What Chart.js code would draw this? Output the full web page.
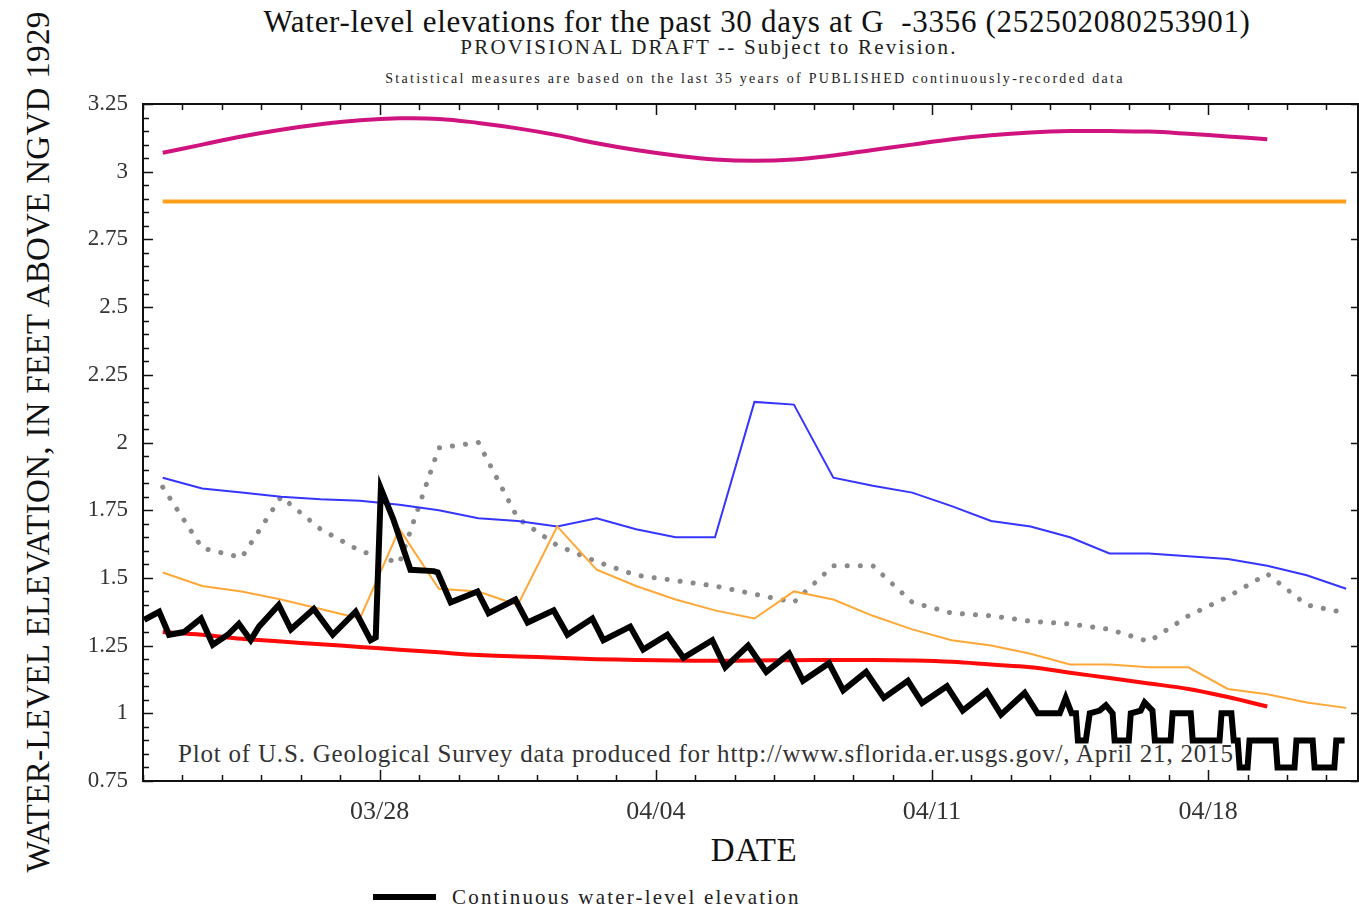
<!DOCTYPE html>
<html>
<head>
<meta charset="utf-8">
<script src="https://cdn.jsdelivr.net/npm/chart.js@4.4.1/dist/chart.umd.min.js"></script>
<style>
  body { margin: 0; background: #fff; }
  #wrap { position: relative; width: 1359px; height: 913px; overflow: hidden; font-family: "Liberation Serif", "Times New Roman", serif; }
  #wrap canvas { position: absolute; left: 0; top: 0; z-index: 2; }
  .txt { position: absolute; white-space: nowrap; line-height: 1; z-index: 1; }
  .ctr { transform: translateX(-50%); }
</style>
</head>
<body>
<div id="wrap">
  <div class="txt ctr" style="left:757px;top:6px;font-size:31px;color:#111;letter-spacing:0.7px;">Water-level elevations for the past 30 days at G&nbsp;&nbsp;-3356 (252502080253901)</div>
  <div class="txt ctr" style="left:709px;top:37px;font-size:21px;color:#222;letter-spacing:2.2px;">PROVISIONAL DRAFT -- Subject to Revision.</div>
  <div class="txt ctr" style="left:755px;top:72px;font-size:14px;color:#222;letter-spacing:2.3px;">Statistical measures are based on the last 35 years of PUBLISHED continuously-recorded data</div>
  <div class="txt" style="left:38px;top:442px;font-size:33px;color:#111;letter-spacing:0.3px;transform:translate(-50%,-50%) rotate(-90deg);">WATER-LEVEL ELEVATION, IN FEET ABOVE NGVD 1929</div>
  <div class="txt" style="left:178px;top:741px;font-size:25px;color:#333;letter-spacing:0.8px;">Plot of U.S. Geological Survey data produced for http://www.sflorida.er.usgs.gov/, April 21, 2015</div>
  <div class="txt ctr" style="left:754px;top:834px;font-size:33px;color:#111;letter-spacing:0.5px;">DATE</div>
  <div style="position:absolute;left:373px;top:894px;width:63px;height:6px;background:#000;"></div>
  <div class="txt" style="left:452px;top:887px;font-size:21px;color:#222;letter-spacing:2.2px;">Continuous water-level elevation</div>
  <canvas id="chart" width="1359" height="913"></canvas>
</div>
<script>
// days counted from 03/22 00:00
const xTickDays = [6, 13, 20, 27];
const xTickLabels = ["03/28", "04/04", "04/11", "04/18"];
const yTickValues = [0.75, 1, 1.25, 1.5, 1.75, 2, 2.25, 2.5, 2.75, 3, 3.25];
const yTickLabels = ["0.75", "1", "1.25", "1.5", "1.75", "2", "2.25", "2.5", "2.75", "3", "3.25"];

// daily statistics, one point at noon of each day
const statDays = [0.5, 1.5, 2.5, 3.5, 4.5, 5.5, 6.5, 7.5, 8.5, 9.5, 10.5, 11.5, 12.5, 13.5, 14.5, 15.5,
  16.5, 17.5, 18.5, 19.5, 20.5, 21.5, 22.5, 23.5, 24.5, 25.5, 26.5, 27.5, 28.5, 29.5, 30.5];
const upperSmooth = [3.07, 3.10, 3.13, 3.155, 3.175, 3.19, 3.197, 3.195, 3.18, 3.16, 3.135, 3.105, 3.08, 3.06,
  3.045, 3.04, 3.045, 3.06, 3.08, 3.10, 3.12, 3.135, 3.145, 3.15, 3.15, 3.148, 3.14, 3.13, 3.12];
const constDays = [0.5, 30.5];
const constLevel = [2.89, 2.89];
const highDaily = [1.87, 1.83, 1.815, 1.80, 1.79, 1.785, 1.77, 1.75, 1.72, 1.71, 1.69, 1.72, 1.68, 1.65, 1.65,
  2.15, 2.14, 1.87, 1.84, 1.815, 1.765, 1.71, 1.69, 1.65, 1.59, 1.59, 1.58, 1.57, 1.545, 1.51, 1.46];
const midDaily = [1.835, 1.61, 1.575, 1.80, 1.68, 1.60, 1.555, 1.98, 2.00, 1.72, 1.62, 1.56, 1.51, 1.49, 1.47,
  1.44, 1.41, 1.545, 1.545, 1.41, 1.37, 1.36, 1.34, 1.33, 1.31, 1.265, 1.36, 1.43, 1.515, 1.40, 1.37];
const lowDaily = [1.52, 1.47, 1.45, 1.42, 1.385, 1.35, 1.68, 1.46, 1.45, 1.40, 1.69, 1.53, 1.47, 1.42, 1.38,
  1.35, 1.45, 1.42, 1.36, 1.31, 1.27, 1.25, 1.22, 1.18, 1.18, 1.17, 1.17, 1.09, 1.07, 1.04, 1.02];
const lowerSmooth = [1.30, 1.29, 1.275, 1.265, 1.255, 1.245, 1.235, 1.225, 1.215, 1.21, 1.205, 1.20, 1.197, 1.195,
  1.194, 1.195, 1.196, 1.197, 1.197, 1.195, 1.19, 1.18, 1.17, 1.15, 1.13, 1.11, 1.09, 1.06, 1.025];

// continuous record
const contDays = [0.03, 0.41, 0.66, 1.04, 1.47, 1.77, 2.15, 2.43, 2.73, 2.94, 3.44, 3.75, 4.33, 4.81, 5.39, 5.77,
  5.90, 6.03, 6.35, 6.78, 7.37, 7.47, 7.80, 8.48, 8.76, 9.44, 9.75, 10.41, 10.76, 11.39, 11.67, 12.35, 12.68,
  13.29, 13.70, 14.43, 14.76, 15.34, 15.80, 16.38, 16.73, 17.39, 17.75, 18.33, 18.78, 19.39, 19.75, 20.38, 20.78,
  21.39, 21.75, 22.35, 22.68, 23.24, 23.39, 23.54, 23.65, 23.70, 23.90, 24.00, 24.25, 24.41, 24.58, 24.63, 24.99,
  25.04, 25.29, 25.39, 25.59, 25.65, 26.05, 26.10, 26.56, 26.61, 27.29, 27.34, 27.59, 27.65, 27.75, 27.80, 28.00,
  28.05, 28.71, 28.76, 29.19, 29.24, 29.65, 29.70, 30.20, 30.25, 30.46];
const contLevel = [1.345, 1.375, 1.29, 1.30, 1.35, 1.253, 1.29, 1.33, 1.27, 1.32, 1.40, 1.31, 1.385, 1.29, 1.375, 1.27,
  1.28, 1.83, 1.715, 1.53, 1.525, 1.52, 1.41, 1.45, 1.37, 1.42, 1.335, 1.38, 1.29, 1.35, 1.27, 1.32, 1.235,
  1.29, 1.205, 1.27, 1.17, 1.25, 1.153, 1.22, 1.12, 1.185, 1.085, 1.153, 1.057, 1.12, 1.038, 1.10, 1.01,
  1.08, 0.995, 1.075, 1.0, 1.0, 1.057, 1.0, 1.0, 0.9, 0.9, 1.0, 1.01, 1.03, 1.0, 0.9, 0.9,
  1.0, 1.01, 1.04, 1.01, 0.9, 0.9, 1.0, 1.0, 0.9, 0.9, 1.0, 1.0, 0.9, 0.9, 0.8, 0.8,
  0.9, 0.9, 0.8, 0.8, 0.9, 0.9, 0.8, 0.8, 0.9, 0.9];

function pts(days, vals) {
  return vals.map((v, i) => ({ x: days[i], y: v }));
}

const serif = '"Liberation Serif", "Times New Roman", serif';

// frame with inward ticks, like the original plot
const frameTicks = {
  id: "frameTicks",
  afterDatasetsDraw(chart) {
    const { ctx, chartArea: a, scales } = chart;
    const xs = scales.x, ys = scales.y;
    ctx.save();
    ctx.strokeStyle = "#111";
    ctx.lineWidth = 1.5;
    ctx.beginPath();
    for (let i = 0; i <= 50; i++) {
      const y = Math.round(ys.getPixelForValue(0.75 + i * 0.05)) + 0.5;
      const major = i % 5 === 0;
      ctx.moveTo(a.left, y);
      ctx.lineTo(a.left + (major ? 10 : 6), y);
      if (major) {
        ctx.moveTo(a.right, y);
        ctx.lineTo(a.right - 7, y);
      }
    }
    for (let d = 0; d <= 30; d++) {
      const x = Math.round(xs.getPixelForValue(d)) + 0.5;
      const major = (d - 6) % 7 === 0;
      ctx.moveTo(x, a.bottom);
      ctx.lineTo(x, a.bottom - (major ? 11 : 6));
      ctx.moveTo(x, a.top);
      ctx.lineTo(x, a.top + (major ? 11 : 6));
    }
    ctx.stroke();
    ctx.lineWidth = 2;
    ctx.strokeRect(a.left, a.top, a.right - a.left, a.bottom - a.top);
    ctx.restore();
  }
};

new Chart(document.getElementById("chart"), {
  type: "line",
  data: {
    datasets: [
      { data: pts(contDays, contLevel), borderColor: "#000", borderWidth: 6, order: 1, borderJoinStyle: "miter" },
      { data: pts(statDays, lowDaily), borderColor: "#ffa838", borderWidth: 2, order: 2 },
      { data: pts(statDays, highDaily), borderColor: "#3535ff", borderWidth: 2, order: 3 },
      { data: pts(statDays, midDaily), borderColor: "#8a8a8a", borderWidth: 5, borderDash: [0.1, 13],
        borderCapStyle: "round", order: 4 },
      { data: pts(statDays, lowerSmooth), borderColor: "#ff0a0a", borderWidth: 4, tension: 0.4, order: 5 },
      { data: pts(statDays, upperSmooth), borderColor: "#d0147f", borderWidth: 4, tension: 0.4, order: 6 },
      { data: pts(constDays, constLevel), borderColor: "#ff9f1c", borderWidth: 4, order: 7 }
    ]
  },
  options: {
    responsive: false,
    animation: false,
    devicePixelRatio: 1,
    layout: { padding: { top: 104, right: 1, left: 0, bottom: 0 } },
    elements: { point: { radius: 0 }, line: { fill: false } },
    plugins: { legend: { display: false }, tooltip: { enabled: false } },
    scales: {
      x: {
        type: "linear", min: 0, max: 30.8,
        grid: { display: false }, border: { display: false },
        afterBuildTicks: s => { s.ticks = xTickDays.map(v => ({ value: v })); },
        afterFit: s => { s.height = 132; },
        ticks: {
          autoSkip: false, maxRotation: 0, padding: 8, color: "#333",
          font: { family: serif, size: 26 },
          callback: (v, i) => xTickLabels[i]
        }
      },
      y: {
        type: "linear", min: 0.75, max: 3.25,
        grid: { display: false }, border: { display: false },
        afterBuildTicks: s => { s.ticks = yTickValues.map(v => ({ value: v })); },
        afterFit: s => { s.width = 143; },
        ticks: {
          autoSkip: false, padding: 7, color: "#333",
          font: { family: serif, size: 23 },
          callback: (v, i) => yTickLabels[i]
        }
      }
    }
  },
  plugins: [frameTicks]
});
</script>
</body>
</html>
